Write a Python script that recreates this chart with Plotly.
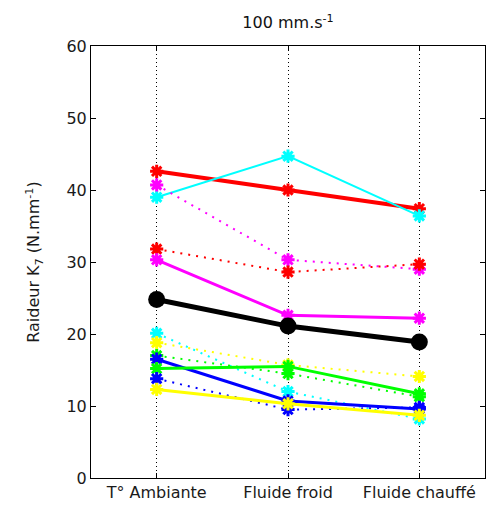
import plotly.graph_objects as go

categories = ["T° Ambiante", "Fluide froid", "Fluide chauffé"]
x_pos = [1, 2, 3]

red_solid = [42.6, 40.0, 37.4]
cyan_solid = [39.0, 44.7, 36.4]
magenta_dotted = [40.7, 30.3, 29.0]
red_dotted = [31.8, 28.6, 29.7]
magenta_solid = [30.3, 22.6, 22.2]
cyan_dotted = [20.1, 12.0, 8.2]
yellow_dotted = [18.8, 15.7, 14.1]
green_dotted = [17.0, 14.5, 11.3]
blue_solid = [16.5, 10.7, 9.6]
green_solid = [15.2, 15.5, 11.7]
blue_dotted = [13.8, 9.5, 9.8]
yellow_solid = [12.3, 10.3, 8.7]
mean_black = [24.8, 21.1, 18.9]

series = [
    (red_solid, "#ff0000", "solid", 4),
    (cyan_solid, "#00ffff", "solid", 2),
    (magenta_dotted, "#ff00ff", "2px,6px", 2),
    (red_dotted, "#ff0000", "2px,6px", 2),
    (magenta_solid, "#ff00ff", "solid", 3),
    (cyan_dotted, "#00ffff", "2px,6px", 2),
    (yellow_dotted, "#ffff00", "2px,6px", 2),
    (green_dotted, "#00ff00", "2px,6px", 2),
    (blue_solid, "#0000ff", "solid", 3),
    (green_solid, "#00ff00", "solid", 3),
    (blue_dotted, "#0000ff", "2px,6px", 2),
    (yellow_solid, "#ffff00", "solid", 3),
]

FONT = "DejaVu Sans, Arial, sans-serif"

fig = go.Figure()
for vals, col, dash, w in series:
    fig.add_trace(go.Scatter(
        x=x_pos, y=vals, mode="lines+markers",
        line=dict(color=col, width=w, dash=dash),
        marker=dict(symbol="asterisk-open", size=11, color=col, line=dict(color=col, width=3)),
        showlegend=False, hoverinfo="skip",
    ))

fig.add_trace(go.Scatter(
    x=x_pos, y=mean_black, mode="lines+markers",
    line=dict(color="black", width=5),
    marker=dict(symbol="circle", size=17, color="black"),
    showlegend=False, hoverinfo="skip",
))

fig.update_layout(
    width=489, height=505,
    margin=dict(l=91, r=4, t=46, b=27),
    paper_bgcolor="white", plot_bgcolor="white",
    font=dict(family=FONT, size=16, color="#1a1a1a"),
    title=dict(text="100 mm.s<sup>-1</sup>", x=0.589, xanchor="center", y=0.955, yanchor="middle",
               font=dict(family=FONT, size=16, color="#111")),
)
fig.update_xaxes(
    range=[0.5, 3.5], tickvals=x_pos, ticktext=categories,
    showgrid=True, gridcolor="black", gridwidth=1, griddash="1px,3px",
    showline=True, linecolor="black", linewidth=1, mirror="ticks",
    ticks="inside", ticklen=5, tickcolor="black", zeroline=False,
    tickfont=dict(family=FONT, size=16, color="#1a1a1a"),
)
fig.update_yaxes(
    range=[0, 60], tickvals=[0, 10, 20, 30, 40, 50, 60],
    showgrid=False, showline=True, linecolor="black", linewidth=1, mirror="ticks",
    ticks="inside", ticklen=5, tickcolor="black", zeroline=False,
    tickfont=dict(family=FONT, size=16, color="#1a1a1a"),
    title=dict(text="Raideur K<sub>7</sub> (N.mm<sup>-1</sup>)", font=dict(family=FONT, size=16, color="#1a1a1a"), standoff=22),
)

fig.write_html("out.html", config={"displayModeBar": False},
               post_script="document.body.style.margin='0';document.body.style.overflow='hidden';")
